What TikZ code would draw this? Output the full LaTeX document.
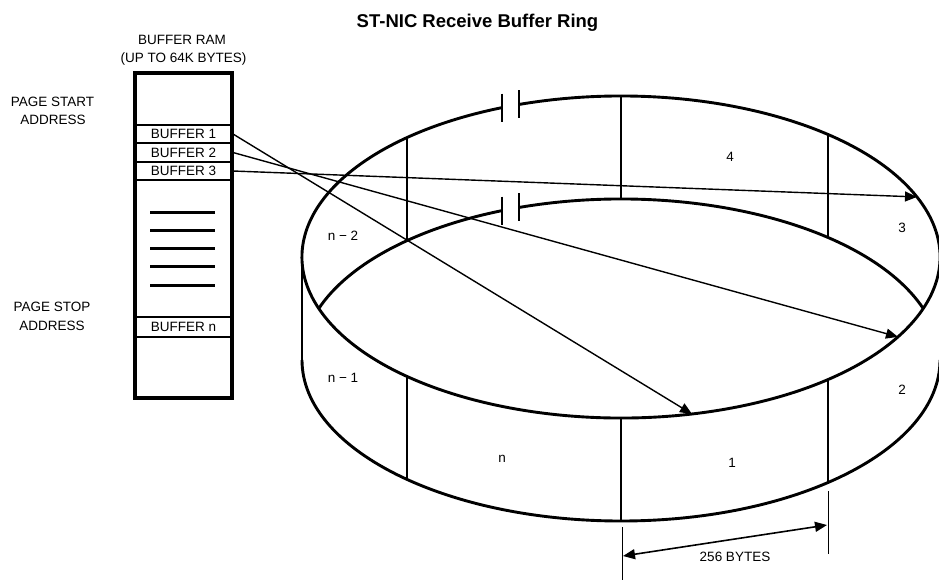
\documentclass[tikz,border=0pt]{standalone}
\usepackage{fontspec}
\setmainfont{Liberation Sans}
\usetikzlibrary{arrows.meta}
\begin{document}
\begin{tikzpicture}[x=1pt,y=-1pt,
 ring/.style={line width=2.9pt},
 txt/.style={font=\fontsize{13.5}{15}\selectfont, inner sep=0pt, text height=9.6pt, text depth=0pt},
 rowbox/.style={txt, draw, line width=2pt, minimum width=97pt, minimum height=18.5pt},
 ptr/.style={line width=1.4pt, -{Triangle[length=12pt,width=10pt]}},
 dimarrow/.style={line width=1.6pt, {Triangle[length=12pt,width=10pt]}-{Triangle[length=12pt,width=10pt]}},
 extline/.style={line width=1pt},
 hashline/.style={line width=3pt},
 outerbox/.style={line width=3.8pt}]
\useasboundingbox (0,0) rectangle (939,581);

% title
\node[font=\fontsize{18.5}{22}\selectfont\bfseries, anchor=base, inner sep=0pt] (title) at (477.5,27) {ST-NIC Receive Buffer Ring};

% buffer RAM
\node[txt] (ramlbl) at (182,40) {BUFFER RAM};
\node[txt] (ramsize) at (183.5,57.5) {(UP TO 64K BYTES)};
\node[txt] (pstart1) at (52.5,102) {PAGE START};
\node[txt] (pstart2) at (53,120) {ADDRESS};
\node[txt] (pstop1) at (52,307) {PAGE STOP};
\node[txt] (pstop2) at (52,326) {ADDRESS};

\node[rowbox] (b1) at (183.5,134) {BUFFER 1};
\node[rowbox] (b2) at (183.5,152.5) {BUFFER 2};
\node[rowbox] (b3) at (183.5,171) {BUFFER 3};
\node[rowbox, minimum height=19.5pt] (bn) at (183.5,327) {BUFFER n};
\draw[outerbox] (135,73) rectangle (232,398);
\foreach \yy in {212,230,248,266,285} \draw[hashline] (150,\yy) -- (215,\yy);

% ring
\coordinate (ct) at (621,257);
\coordinate (cb) at (621,360);
\draw[ring] ([shift={(111.9:319pt and 161pt)}]ct) arc[start angle=111.9, end angle=468.65, x radius=319pt, y radius=161pt];
\draw[ring] ([shift={(18.66:319pt and 161pt)}]cb) arc[start angle=18.66, end angle=108.65, x radius=319pt, y radius=161pt];
\draw[ring] ([shift={(111.9:319pt and 161pt)}]cb) arc[start angle=111.9, end angle=161.34, x radius=319pt, y radius=161pt];
\draw[ring] ([shift={(180:319pt and 161pt)}]cb) arc[start angle=180, end angle=360, x radius=319pt, y radius=161pt];
\draw[ring] ([shift={(180:319pt and 161pt)}]ct) -- ([shift={(180:319pt and 161pt)}]cb);
\draw[ring] ([shift={(0:319pt and 161pt)}]ct) -- ([shift={(0:319pt and 161pt)}]cb);

% dividers
\foreach \a/\n in {132.13/a,90/b,49.54/c,227.87/d,270/e,310.46/f}{
  \path ([shift={(\a:319pt and 161pt)}]ct) coordinate (t\n)
        ([shift={(\a:319pt and 161pt)}]cb) coordinate (u\n);
  \draw[ring] (t\n) -- (u\n);
}

% break marks
\foreach \a/\n in {111.9/p,108.65/q}{
  \path ([shift={(\a:319pt and 161pt)}]ct) coordinate (bt\n)
        ([shift={(\a:319pt and 161pt)}]cb) coordinate (bb\n);
  \draw[ring] ([yshift=14pt]bt\n) -- ([yshift=-14pt]bt\n);
  \draw[ring] ([yshift=14pt]bb\n) -- ([yshift=-14pt]bb\n);
}

% segment labels
\node[txt] (s4) at (730,157) {4};
\node[txt] (s3) at (902,228) {3};
\node[txt] (s2) at (902,390) {2};
\node[txt] (s1) at (732,463) {1};
\node[txt] (sn) at (502,458) {n};
\node[txt] (sn1) at (343,378) {n − 1};
\node[txt] (sn2) at (343,236) {n − 2};

% pointers
\coordinate (e1) at ([shift={(282.86:319pt and 161pt)}]ct);
\coordinate (e2) at ([shift={(330.26:319pt and 161pt)}]ct);
\coordinate (e3) at ([shift={(21.9:319pt and 161pt)}]ct);
\draw[ptr] (b1.east) -- (e1);
\draw[ptr] (b2.east) -- (e2);
\draw[ptr] (b3.east) -- (e3);

% dimension
\coordinate (x1a) at (622,527);
\coordinate (x1b) at (622,580);
\coordinate (x2a) at (828,491);
\coordinate (x2b) at (828,554);
\draw[extline] (x1a) -- (x1b);
\draw[extline] (x2a) -- (x2b);
\coordinate (d1) at (623,556);
\coordinate (d2) at (827,525);
\draw[dimarrow] (d1) -- (d2);
\node[txt] (bytes) at (735,557) {256 BYTES};
\end{tikzpicture}
\end{document}
